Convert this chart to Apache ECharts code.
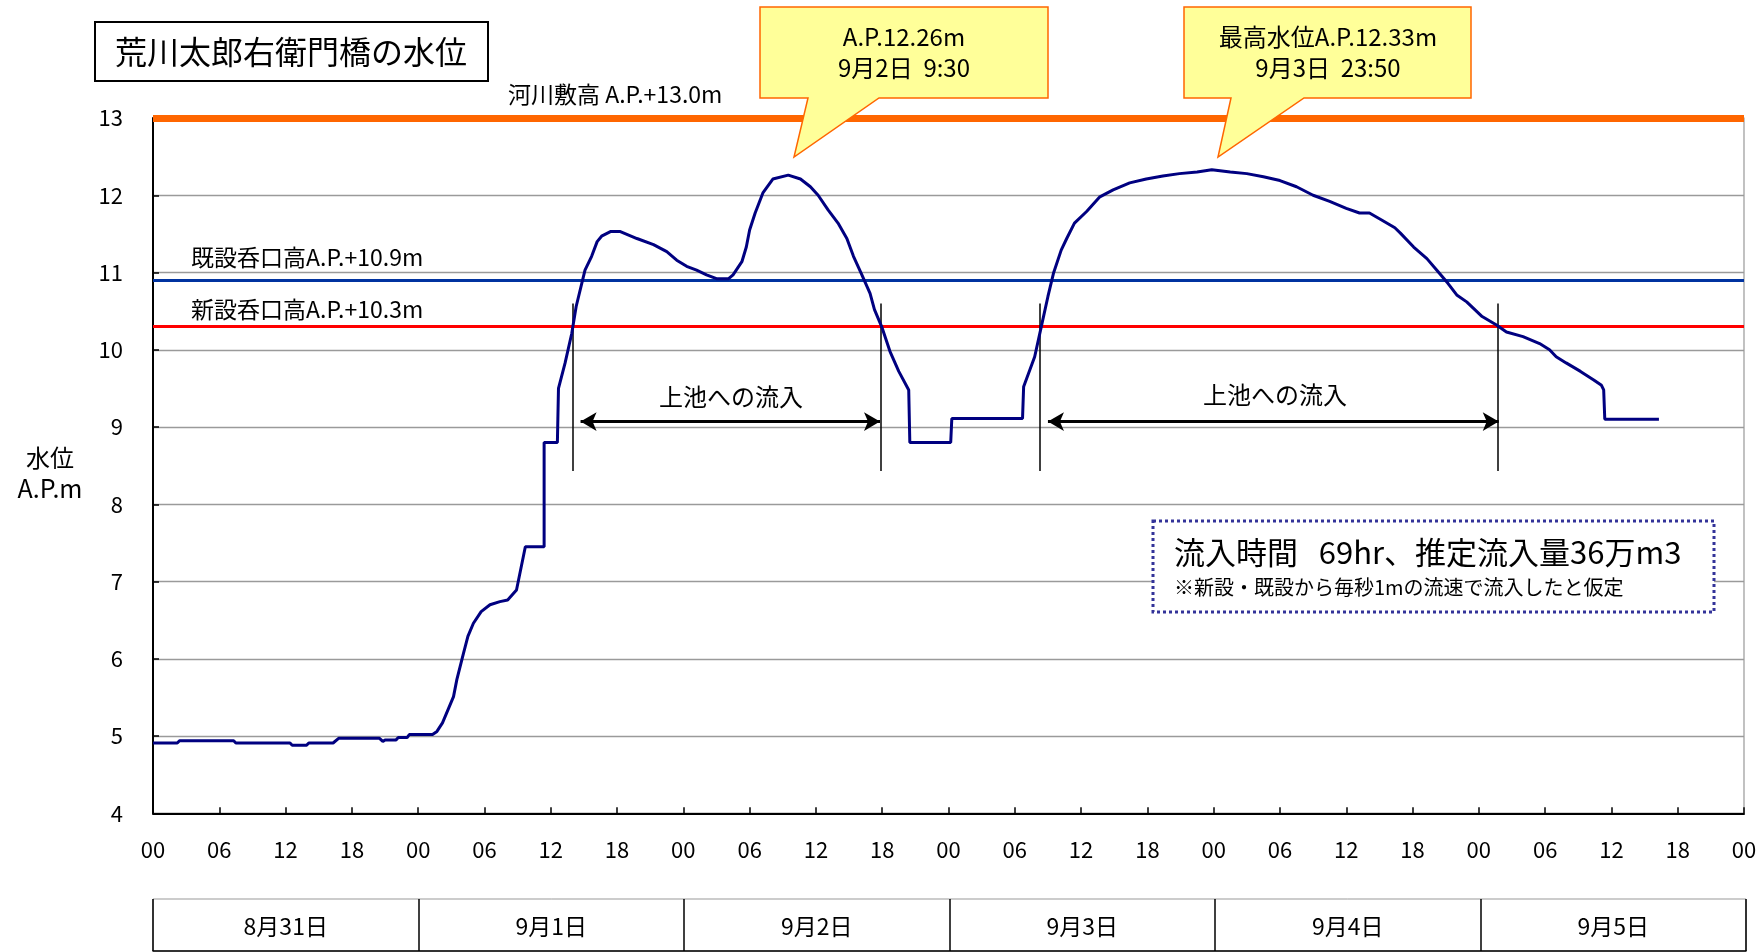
<!DOCTYPE html>
<html>
<head>
<meta charset="utf-8">
<title>荒川太郎右衛門橋の水位</title>
<script src="https://cdn.jsdelivr.net/npm/echarts@6/dist/echarts.min.js"></script>
<style>
  html, body { margin: 0; padding: 0; background: #fff; }
  #chart { width: 1762px; height: 952px; }
</style>
</head>
<body>
<div id="chart"></div>
<script>
// Elapsed hours from 8/31 00:00 and the observed water level (A.P. m)
const hours = [
  0, 2.2, 2.4, 7.3, 7.5, 12.4, 12.6, 13.9, 14.1, 16.3, 16.8, 20.5, 20.8, 21.0, 22.0, 22.2, 23.0, 23.2, 25.3,
  25.7, 26.2, 27.2, 27.5, 28.1, 28.5, 29.0, 29.7, 30.5, 31.4, 32.1, 32.9, 33.7, 35.4, 35.4, 36.6, 36.7,
  37.3, 37.9, 38.3, 39.1, 39.7, 40.2, 40.6, 41.4, 42.3, 43.8, 45.3, 46.5, 47.4, 48.3, 49.2, 50.1, 51.0,
  52.1, 52.5, 53.3, 53.7, 54.0, 54.5, 55.2, 56.1, 57.5, 58.6, 59.5, 60.2, 61.1, 62.0, 62.8, 63.4, 64.1,
  64.9, 65.3, 65.95, 66.7, 67.5, 68.4, 68.5, 72.2, 72.3, 78.7, 78.8, 79.8, 80.4, 81.0, 81.5, 82.2, 82.7,
  83.4, 84.5, 85.7, 86.9, 88.4, 89.9, 91.4, 92.9, 94.5, 95.83, 97.5, 99.0, 100.5, 102.0, 103.5, 105.0,
  106.5, 108.0, 109.2, 110.1, 111.2, 112.4, 112.9, 114.1, 115.3, 116.2, 117.2, 118.0, 118.9, 120.3,
  121.6, 122.5, 124.0, 125.5, 126.4, 127.0, 127.9, 129.2, 130.4, 131.1, 131.3, 131.4, 136.3
];
const levels = [
  4.91, 4.91, 4.94, 4.94, 4.91, 4.91, 4.88, 4.88, 4.91, 4.91, 4.97, 4.97, 4.93, 4.95, 4.95, 4.98, 4.98, 5.02, 5.02,
  5.06, 5.17, 5.51, 5.73, 6.07, 6.29, 6.46, 6.61, 6.70, 6.74, 6.76, 6.89, 7.45, 7.45, 8.80, 8.80, 9.50,
  9.83, 10.21, 10.56, 11.03, 11.21, 11.40, 11.47, 11.53, 11.53, 11.44, 11.36, 11.27, 11.16, 11.08, 11.03, 10.97, 10.92,
  10.92, 10.97, 11.14, 11.33, 11.55, 11.77, 12.03, 12.21, 12.26, 12.21, 12.11, 12.00, 11.81, 11.64, 11.44, 11.21, 10.99,
  10.73, 10.52, 10.30, 9.98, 9.72, 9.48, 8.80, 8.80, 9.11, 9.11, 9.52, 9.91, 10.30, 10.69, 10.99, 11.29, 11.44,
  11.64, 11.79, 11.98, 12.07, 12.16, 12.21, 12.25, 12.28, 12.30, 12.33, 12.30, 12.28, 12.24, 12.19, 12.11, 12.00,
  11.92, 11.83, 11.77, 11.77, 11.68, 11.58, 11.51, 11.33, 11.18, 11.03, 10.86, 10.71, 10.62, 10.43,
  10.32, 10.23, 10.17, 10.08, 10.00, 9.91, 9.83, 9.72, 9.61, 9.54, 9.48, 9.10, 9.10
];

// Reference heights (A.P. m)
const bankHeight = 13.0;      // 河川敷高
const oldIntake = 10.9;       // 既設呑口高
const newIntake = 10.3;       // 新設呑口高

// Inflow periods: hours where the level crosses the new intake height
const inflowStart = [38.0, 80.3];
const inflowEnd = [65.9, 121.7];
const arrowStart = [38.7, 81.0];
const arrowEnd = [65.8, 121.8];
const arrowLevel = 9.07;
const markerTop = 10.6;
const markerBottom = 8.43;

// Day table and tick labels
const dayLabels = ['8月31日', '9月1日', '9月2日', '9月3日', '9月4日', '9月5日'];
const yTicks = { min: 4, max: 13, step: 1 };
const xTicks = { min: 0, max: 144, step: 6 };

const FONT = '"Noto Sans CJK JP", "Noto Sans", sans-serif';

const levelData = hours.map((h, i) => [h, levels[i]]);

const markerLines = [];
for (let i = 0; i < inflowStart.length; i++) {
  markerLines.push([{ coord: [inflowStart[i], markerTop] }, { coord: [inflowStart[i], markerBottom] }]);
  markerLines.push([{ coord: [inflowEnd[i], markerTop] }, { coord: [inflowEnd[i], markerBottom] }]);
}
const arrowLines = arrowStart.map((s, i) => [{ coord: [s, arrowLevel] }, { coord: [arrowEnd[i], arrowLevel] }]);

const chart = echarts.init(document.getElementById('chart'), null, { renderer: 'canvas' });

function txt(text, x, y, size, align, extra) {
  return Object.assign({
    type: 'text', z: 100, x: x, y: y,
    style: { text: text, font: size + 'px ' + FONT, fill: '#000', align: align || 'left', verticalAlign: 'middle' }
  }, extra || {});
}

function callout(left, right, top, bottom, baseL, baseR, tip) {
  return {
    type: 'polygon', z: 90,
    shape: { points: [[left, top], [right, top], [right, bottom], [baseR, bottom], tip, [baseL, bottom], [left, bottom]] },
    style: { fill: '#FFFF99', stroke: '#FF6600', lineWidth: 1.5 }
  };
}

const option = {
  animation: false,
  backgroundColor: '#fff',
  textStyle: { fontFamily: FONT },
  grid: [
    { left: 153, right: 18, top: 118, bottom: 138.7, show: true, borderColor: '#999', borderWidth: 1.2, backgroundColor: 'transparent' },
    { left: 153, right: 16, top: 899, height: 52, show: true, borderColor: '#999', borderWidth: 1 }
  ],
  xAxis: [
    {
      type: 'value', gridIndex: 0, min: xTicks.min, max: xTicks.max, interval: xTicks.step,
      axisLine: { show: true, onZero: false, lineStyle: { color: '#000', width: 2 } },
      axisTick: { show: true, inside: true, length: 6, lineStyle: { color: '#000', width: 1.5 } },
      axisLabel: {
        margin: 25, fontSize: 22, color: '#000', fontFamily: FONT,
        formatter: v => String(v % 24).padStart(2, '0')
      },
      splitLine: { show: false }
    },
    {
      type: 'category', gridIndex: 1, data: dayLabels, position: 'top', boundaryGap: true,
      axisLine: { show: true, lineStyle: { color: '#000', width: 1.5 } },
      axisTick: { show: false },
      axisLabel: { inside: true, margin: 27, verticalAlign: 'middle', fontSize: 23, color: '#000', fontFamily: FONT },
      splitLine: { show: true, lineStyle: { color: '#000', width: 1.5 } }
    }
  ],
  yAxis: [
    {
      type: 'value', gridIndex: 0, min: yTicks.min, max: yTicks.max, interval: yTicks.step,
      axisLine: { show: true, lineStyle: { color: '#000', width: 2 } },
      axisTick: { show: true, inside: true, length: 6, lineStyle: { color: '#000', width: 1.5 } },
      axisLabel: { margin: 30, fontSize: 22, color: '#000', fontFamily: FONT },
      splitLine: { show: true, lineStyle: { color: '#9a9a9a', width: 1.3 } }
    },
    { type: 'value', gridIndex: 1, show: false, min: 0, max: 1 }
  ],
  series: [
    {
      name: '水位', type: 'line', xAxisIndex: 0, yAxisIndex: 0,
      data: levelData, showSymbol: false, symbol: 'none', z: 5,
      lineStyle: { color: '#000080', width: 3 },
      markLine: {
        silent: true, symbol: 'none', z: 4, label: { show: false },
        data: [
          { yAxis: bankHeight, lineStyle: { color: '#FF6600', width: 7, type: 'solid' } },
          { yAxis: oldIntake, lineStyle: { color: '#0033A0', width: 3, type: 'solid' } },
          { yAxis: newIntake, lineStyle: { color: '#FF0000', width: 3, type: 'solid' } }
        ]
      }
    },
    {
      name: '流入期間', type: 'line', xAxisIndex: 0, yAxisIndex: 0, data: [], z: 6,
      markLine: {
        silent: true, symbol: 'none', label: { show: false },
        lineStyle: { color: '#000', width: 1.5, type: 'solid' },
        data: markerLines
      }
    },
    {
      name: '流入矢印', type: 'line', xAxisIndex: 0, yAxisIndex: 0, data: [], z: 7,
      markLine: {
        silent: true, symbol: ['arrow', 'arrow'], symbolSize: [14, 16], label: { show: false },
        lineStyle: { color: '#000', width: 3, type: 'solid' },
        itemStyle: { color: '#000' },
        data: arrowLines
      }
    }
  ],
  graphic: [
    // title box
    { type: 'rect', z: 90, shape: { x: 95, y: 22, width: 393, height: 59 }, style: { fill: '#fff', stroke: '#000', lineWidth: 2 } },
    txt('荒川太郎右衛門橋の水位', 291, 52, 32, 'center'),
    // axis name
    txt('水位', 50, 458, 24, 'center'),
    txt('A.P.m', 50, 488, 25, 'center'),
    // reference line labels
    txt('河川敷高 A.P.+13.0m', 508, 94, 23, 'left'),
    txt('既設呑口高A.P.+10.9m', 191, 257, 23, 'left'),
    txt('新設呑口高A.P.+10.3m', 191, 309, 23, 'left'),
    // callouts for the two peaks
    callout(760, 1048, 7, 98, 808, 879, [794, 157]),
    txt('A.P.12.26m', 904, 37, 24, 'center'),
    txt('9月2日  9:30', 904, 68, 24, 'center'),
    callout(1184, 1471, 7, 98, 1231, 1304, [1218, 157]),
    txt('最高水位A.P.12.33m', 1328, 37, 24, 'center'),
    txt('9月3日  23:50', 1328, 68, 24, 'center'),
    // inflow labels
    txt('上池への流入', 731, 397, 24, 'center'),
    txt('上池への流入', 1275, 395, 24, 'center'),
    // summary box
    { type: 'rect', z: 90, shape: { x: 1153, y: 521, width: 561, height: 91 },
      style: { fill: '#fff', stroke: '#333399', lineWidth: 3, lineDash: [3, 3] } },
    txt('流入時間   69hr、推定流入量36万m3', 1174, 552, 31, 'left'),
    txt('※新設・既設から毎秒1mの流速で流入したと仮定', 1174, 587, 20, 'left')
  ]
};

chart.setOption(option);
</script>
</body>
</html>
